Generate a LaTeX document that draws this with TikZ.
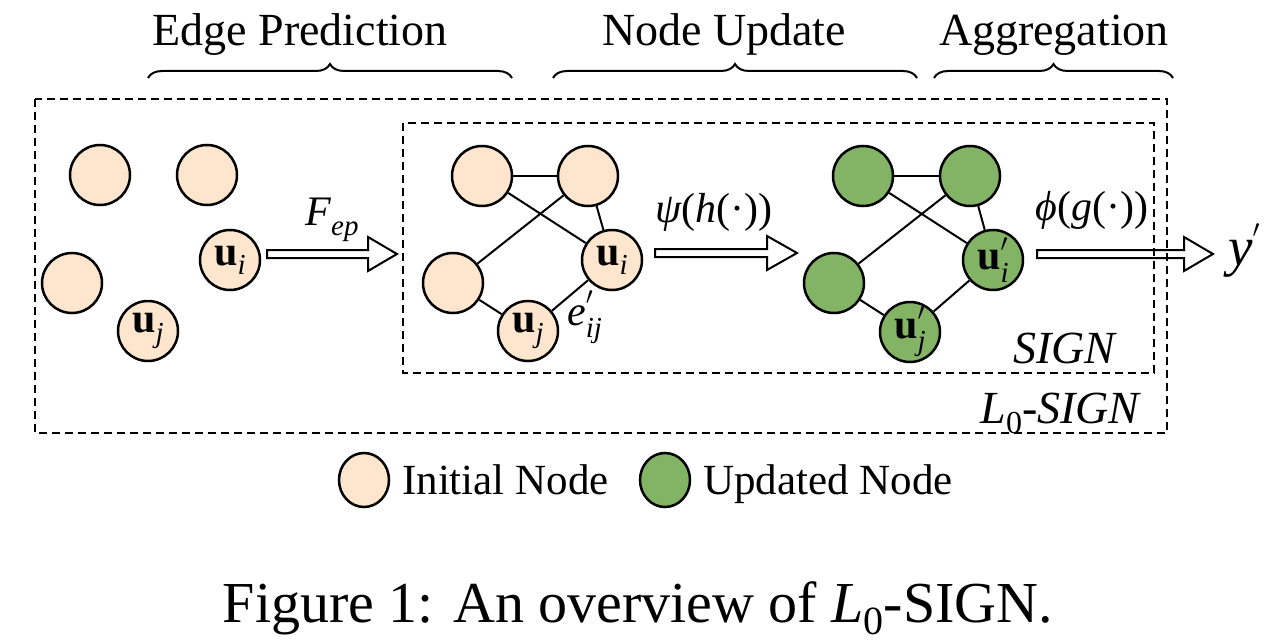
\documentclass[tikz,border=0pt]{standalone}
\usepackage{fontspec}
\setmainfont{Liberation Serif}
\usetikzlibrary{decorations.pathreplacing,shapes.geometric}
\definecolor{peach}{RGB}{253,230,205}
\definecolor{ngreen}{RGB}{131,180,101}
\newcommand{\fs}[1]{\fontsize{#1}{#1}\selectfont}
\newcommand{\prm}[1]{{\fs{#1}$\prime$}}
\newcommand{\usub}[1]{\textbf{u}\raisebox{-0.22em}{\fs{29}\itshape #1}}
\newcommand{\uprm}[1]{\textbf{u}\rlap{\raisebox{0.42em}{\prm{26}}}\raisebox{-0.3em}{\fs{29}\itshape #1}}
\newcommand{\harrow}[4]{%
  \draw[hol] (#1,#4-4) -- (#2,#4-4) -- (#2,#4-17) -- (#3,#4) -- (#2,#4+17) -- (#2,#4+4) -- (#1,#4+4) -- cycle;}
\begin{document}
\begin{tikzpicture}[x=1pt,y=-1pt,
  nd/.style={circle,draw,line width=2.5pt,minimum size=60pt,inner sep=0pt,font=\fs{42}},
  ini/.style={nd,fill=peach},
  upd/.style={nd,fill=ngreen},
  edge/.style={line width=2pt},
  dbox/.style={draw,line width=2pt,dash pattern=on 8pt off 5pt},
  hol/.style={draw,line width=2pt},
  brc/.style={decorate,decoration={brace,amplitude=14pt},line width=2pt},
  hdr/.style={font=\fs{46},anchor=base},
  lbl/.style={font=\fs{42},inner sep=0pt},
  leg/.style={ellipse,draw,line width=2.5pt,minimum width=50pt,minimum height=54pt,inner sep=0pt}]
\useasboundingbox (0,0) rectangle (1275,642);

% headers and braces
\node[hdr] (h1) at (300,46) {Edge Prediction};
\node[hdr] (h2) at (724,46) {Node Update};
\node[hdr] (h3) at (1054,46) {Aggregation};
\draw[brc] (148,78) -- (512,78);
\draw[brc] (553,78) -- (917,78);
\draw[brc] (934,78) -- (1173,78);

% boxes
\draw[dbox] (35,99) rectangle (1167,433);
\draw[dbox] (403,123) rectangle (1154,373);

% left: isolated nodes
\node[ini] (a1) at (100,175) {};
\node[ini] (a2) at (207,175) {};
\node[ini] (a3) at (72,283) {};
\node[ini] (ai) at (230,260) {\usub{i}};
\node[ini] (aj) at (148,331) {\usub{j}};

% middle graph
\node[ini] (b1) at (482,176) {};
\node[ini] (b2) at (588,176) {};
\node[ini] (b3) at (453,283) {};
\node[ini] (bi) at (612,260) {\usub{i}};
\node[ini] (bj) at (528,331) {\usub{j}};
\draw[edge] (b1) -- (b2);
\draw[edge] (b1) -- (bi);
\draw[edge] (b2) -- (b3);
\draw[edge] (b2) -- (bi);
\draw[edge] (b3) -- (bj);
\draw[edge] (bj) -- (bi);
\node[lbl,anchor=base west] (eij) at (567,325) {\textit{e}\rlap{\raisebox{0.5em}{\prm{26}}}\raisebox{-0.3em}{\fs{29}\itshape ij}};

% right graph
\node[upd] (c1) at (863,176) {};
\node[upd] (c2) at (970,176) {};
\node[upd] (c3) at (834,283) {};
\node[upd] (ci) at (993,260) {\uprm{i}};
\node[upd] (cj) at (910,332) {\uprm{j}};
\draw[edge] (c1) -- (c2);
\draw[edge] (c1) -- (ci);
\draw[edge] (c2) -- (c3);
\draw[edge] (c2) -- (ci);
\draw[edge] (c3) -- (cj);
\draw[edge] (cj) -- (ci);

% hollow arrows
\harrow{267}{368}{397}{254}
\harrow{655}{767}{797}{253}
\harrow{1037}{1184}{1213}{254}

% arrow labels
\node[lbl,anchor=base west] (fep) at (305,225) {\textit{F}\raisebox{-0.25em}{\fs{29}\itshape ep}};
\node[lbl,anchor=base] (psi) at (714,222) {\textit{ψ}(\textit{h}(·))};
\node[lbl,anchor=base] (phi) at (1092,220) {\textit{ϕ}(\textit{g}(·))};
\node[lbl,anchor=base west,font=\fs{55}] (yp) at (1228,265) {\textit{y}\raisebox{0.5em}{\prm{36}}};

% box labels
\node[lbl,anchor=base east,font=\fs{46}] (sign) at (1118,363) {\textit{SIGN}};
\node[lbl,anchor=base east,font=\fs{46}] (lsign) at (1142,423) {\textit{L}\raisebox{-0.22em}{\fs{32}0}\textit{-SIGN}};

% legend
\node[leg,fill=peach] (lg1) at (364,480) {};
\node[lbl,anchor=base west,font=\fs{43}] (lt1) at (402,494) {Initial Node};
\node[leg,fill=ngreen] (lg2) at (665,480) {};
\node[lbl,anchor=base west,font=\fs{43}] (lt2) at (703,494) {Updated Node};

% caption
\node[lbl,anchor=base,font=\fs{58}] (cap) at (638,622) {Figure 1: An overview of \textit{L}\raisebox{-0.22em}{\fs{40}0}-SIGN.};
\end{tikzpicture}
\end{document}
